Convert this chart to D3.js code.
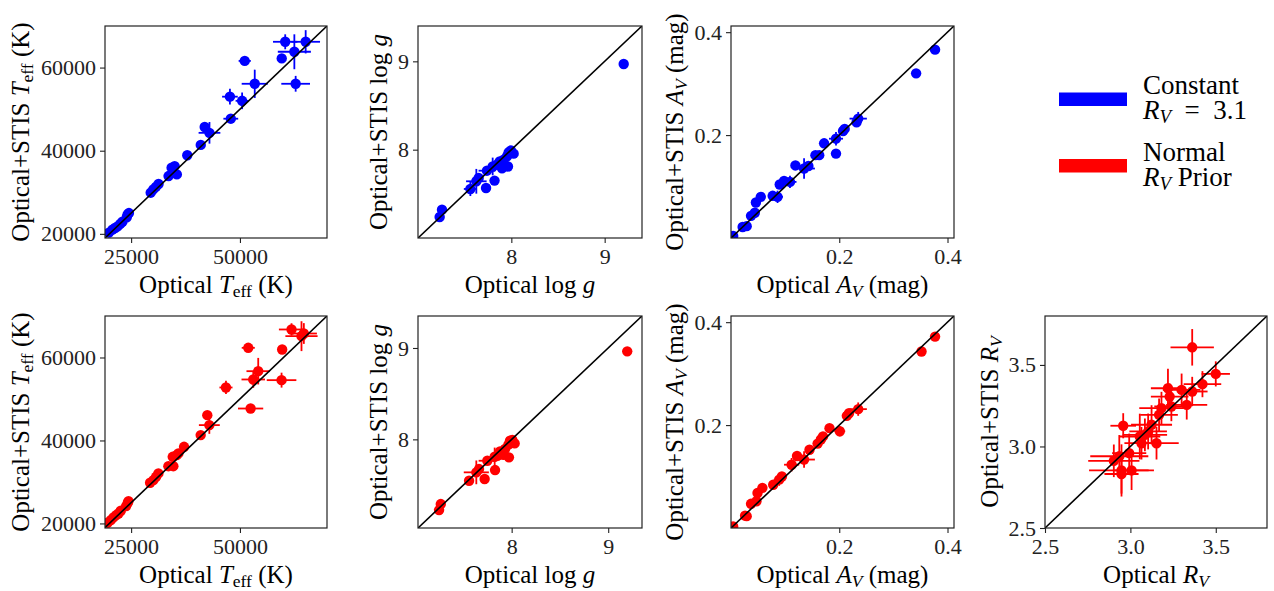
<!DOCTYPE html>
<html><head><meta charset="utf-8">
<script src="https://cdn.jsdelivr.net/npm/d3@7"></script>
<style>body{margin:0;background:#fff}svg{display:block}</style>
</head><body>
<svg id="c" width="1274" height="591"></svg>
<script>
// ---------- DATA: [x, y, xerr, yerr] ----------
const teffConst = [
[19900,20300,300,300],[20700,21000,300,300],[21300,21400,300,300],[21900,21800,300,300],
[22500,22400,300,300],[23000,22900,300,300],[24000,24000,300,300],[24200,24700,300,300],
[24500,25000,300,300],[29500,29900,400,400],[30100,30700,400,400],[30700,31300,400,400],
[31300,32000,400,400],[33600,33900,500,500],[34300,35900,500,500],[35000,36300,500,500],
[35500,34300,500,500],[37900,38900,500,500],[41000,41400,600,600],[41900,45700,800,800],
[43000,44300,2500,2600],[47900,47700,1700,700],[47700,53000,1800,1900],[50500,52000,1500,2000],
[51100,61600,1400,700],[53400,56100,3000,3400],[59600,62200,600,600],[60400,66200,2800,1800],
[62500,63800,3800,4200],[62800,56100,3300,1900],[65100,66200,3300,2800]
];
const loggConst = [
[7.232,7.238,0.02,0.02],[7.257,7.321,0.03,0.03],[7.561,7.555,0.07,0.08],[7.625,7.642,0.11,0.14],
[7.65,7.68,0.03,0.03],[7.729,7.566,0.03,0.03],[7.739,7.762,0.09,0.03],[7.82,7.65,0.03,0.03],
[7.80,7.81,0.03,0.1],[7.846,7.83,0.03,0.03],[7.875,7.868,0.03,0.03],[7.90,7.79,0.03,0.03],
[7.918,7.887,0.03,0.03],[7.954,7.925,0.03,0.03],[7.964,7.81,0.03,0.03],[7.971,7.97,0.03,0.03],
[7.996,7.99,0.03,0.03],[8.025,7.955,0.03,0.03],[9.204,8.97,0.02,0.02]
];
const avConst = [
[0.004,0.004,0.002,0.002],[0.0215,0.0214,0.003,0.003],[0.029,0.023,0.003,0.003],[0.037,0.043,0.003,0.003],
[0.044,0.049,0.003,0.003],[0.046,0.069,0.003,0.003],[0.055,0.080,0.003,0.003],[0.077,0.082,0.004,0.004],
[0.086,0.080,0.01,0.012],[0.090,0.104,0.004,0.004],[0.098,0.111,0.004,0.004],[0.109,0.109,0.012,0.012],
[0.119,0.141,0.004,0.004],[0.135,0.135,0.02,0.02],[0.143,0.140,0.005,0.005],[0.156,0.161,0.005,0.005],
[0.163,0.161,0.005,0.005],[0.172,0.184,0.005,0.005],[0.194,0.193,0.013,0.013],[0.194,0.164,0.004,0.004],
[0.207,0.208,0.005,0.005],[0.210,0.212,0.005,0.005],[0.232,0.225,0.005,0.005],[0.235,0.232,0.016,0.013],
[0.342,0.320,0.006,0.004],[0.377,0.366,0.004,0.004]
];
const teffNorm = [
[19600,20160,300,300],[20340,20800,300,300],[20950,21450,300,300],[21560,22000,300,300],
[22100,22400,300,300],[22630,23050,300,300],[23850,24180,300,300],[24240,24980,300,300],
[24400,25380,300,300],[29360,29800,400,400],[30120,30440,400,400],[30730,31240,400,400],
[31270,32050,400,400],[33560,33800,500,500],[34700,33800,500,500],[34560,36060,500,500],
[35470,36470,500,500],[35860,36870,500,500],[37160,38470,500,500],[40980,41290,600,600],
[42500,46100,600,700],[42970,43700,2400,2100],[46790,52770,1500,1600],[51910,62330,1500,900],
[52450,47700,2900,700],[53060,54700,2700,2000],[54200,56700,2700,3200],[59560,54540,3400,1800],
[59700,61930,600,600],[61850,66750,2900,1500],[64140,65140,3700,3600],[64680,65780,3000,2500]
];
const loggNorm = [
[7.248,7.226,0.02,0.02],[7.266,7.292,0.04,0.03],[7.559,7.547,0.03,0.03],[7.634,7.639,0.13,0.13],
[7.662,7.675,0.03,0.03],[7.72,7.566,0.03,0.03],[7.748,7.766,0.09,0.03],[7.828,7.664,0.03,0.03],
[7.824,7.81,0.03,0.1],[7.852,7.82,0.03,0.03],[7.879,7.869,0.03,0.03],[7.914,7.832,0.03,0.03],
[7.931,7.894,0.03,0.03],[7.966,7.942,0.03,0.03],[7.972,7.803,0.03,0.03],[7.983,7.985,0.03,0.03],
[8.007,7.993,0.03,0.03],[8.031,7.956,0.03,0.03],[9.197,8.963,0.02,0.02]
];
const avNorm = [
[0.004,0.003,0.002,0.002],[0.026,0.024,0.003,0.003],[0.029,0.023,0.003,0.003],[0.037,0.047,0.003,0.003],
[0.047,0.052,0.003,0.003],[0.049,0.068,0.003,0.003],[0.058,0.078,0.003,0.003],[0.078,0.084,0.004,0.004],
[0.089,0.094,0.01,0.012],[0.094,0.100,0.004,0.004],[0.112,0.123,0.014,0.013],[0.122,0.140,0.004,0.004],
[0.135,0.133,0.02,0.016],[0.145,0.152,0.005,0.005],[0.160,0.164,0.005,0.005],[0.166,0.172,0.005,0.005],
[0.170,0.178,0.005,0.005],[0.182,0.194,0.005,0.005],[0.201,0.188,0.01,0.01],[0.214,0.218,0.005,0.005],
[0.218,0.223,0.005,0.005],[0.235,0.231,0.016,0.013],[0.352,0.343,0.004,0.004],[0.377,0.372,0.004,0.004]
];
const rvNorm = [
[3.362,3.608,0.127,0.112],[3.50,3.445,0.083,0.077],[3.422,3.382,0.11,0.08],[3.362,3.337,0.09,0.09],
[3.30,3.347,0.11,0.10],[3.33,3.255,0.12,0.09],[3.22,3.357,0.10,0.12],[3.23,3.306,0.11,0.08],
[3.24,3.245,0.10,0.09],[3.182,3.235,0.13,0.10],[3.168,3.194,0.11,0.10],[3.124,3.133,0.12,0.12],
[3.104,3.092,0.11,0.11],[3.085,3.071,0.13,0.10],[3.055,3.061,0.12,0.14],[3.065,3.02,0.10,0.10],
[3.153,3.02,0.13,0.10],[2.958,3.127,0.075,0.077],[2.935,2.94,0.17,0.13],[2.903,2.912,0.15,0.10],
[2.993,2.959,0.10,0.12],[2.948,2.853,0.19,0.16],[2.948,2.831,0.10,0.12],[3.007,2.853,0.10,0.12]
];
const teffXTicks = [25000, 50000];
const teffYTicks = [20000, 40000, 60000];
const loggTicks = [8, 9];
const avTicks = [0.2, 0.4];
const rvTicks = [2.5, 3.0, 3.5];
const legendLabels = [["Constant", "R_V = 3.1"], ["Normal", "R_V Prior"]];
const seriesColors = ["#0000ff", "#ff0000"];

// ---------- LAYOUT ----------
const svg = d3.select("#c");
const FONT = "'Liberation Serif', 'Times New Roman', serif";
const LABEL_SIZE = 25, TICK_SIZE = 22, LEG_SIZE = 27;
const cols = [[105,327],[418,642],[731,954],[1045,1267]];
const rows = [[26,238],[316,528]];

const labTeff = (pre) => [[pre,"rm"],["T","it"],["eff","sub"],[" (K)","rm"]];
const labLogg = (pre) => [[pre+"log ","rm"],["g","it"]];
const labAv = (pre) => [[pre,"rm"],["A","it"],["V","subit"],[" (mag)","rm"]];
const labRv = (pre) => [[pre,"rm"],["R","it"],["V","subit"]];

const panels = [
 {r:0,c:0,data:teffConst,color:0,xd:[19000,70000],yd:[19000,70000],xt:teffXTicks,yt:teffYTicks,fmt:d3.format("d"),xl:labTeff("Optical "),yl:labTeff("Optical+STIS "),yoff:76},
 {r:0,c:1,data:loggConst,color:0,xd:[7.0,9.4],yd:[7.0,9.4],xt:loggTicks,yt:loggTicks,fmt:d3.format("d"),xl:labLogg("Optical "),yl:labLogg("Optical+STIS "),yoff:31},
 {r:0,c:2,data:avConst,color:0,xd:[0.0,0.412],yd:[0.0,0.412],xt:avTicks,yt:avTicks,fmt:d3.format(".1f"),xl:labAv("Optical "),yl:labAv("Optical+STIS "),yoff:48},
 {r:1,c:0,data:teffNorm,color:1,xd:[19000,70000],yd:[18900,70000],xt:teffXTicks,yt:teffYTicks,fmt:d3.format("d"),xl:labTeff("Optical "),yl:labTeff("Optical+STIS "),yoff:76},
 {r:1,c:1,data:loggNorm,color:1,xd:[7.03,9.35],yd:[7.03,9.35],xt:loggTicks,yt:loggTicks,fmt:d3.format("d"),xl:labLogg("Optical "),yl:labLogg("Optical+STIS "),yoff:31},
 {r:1,c:2,data:avNorm,color:1,xd:[0.0,0.412],yd:[0.0,0.412],xt:avTicks,yt:avTicks,fmt:d3.format(".1f"),xl:labAv("Optical "),yl:labAv("Optical+STIS "),yoff:48},
 {r:1,c:3,data:rvNorm,color:1,xd:[2.5,3.8],yd:[2.5,3.8],xt:rvTicks,yt:rvTicks,fmt:d3.format(".1f"),xl:labRv("Optical "),yl:labRv("Optical+STIS "),yoff:47}
];

function addParts(text, parts, first){
  parts.forEach(([t,s],k)=>{
    const ts = text.append("tspan").text(t);
    if(k===0 && first) first(ts);
    if(s==="it"||s==="subit") ts.attr("font-style","italic");
    if(s==="sub"||s==="subit") ts.attr("font-size","70%").attr("baseline-shift","-22%");
  });
}

panels.forEach((p,i)=>{
  const [x0,x1] = cols[p.c], [y0,y1] = rows[p.r];
  const xs = d3.scaleLinear().domain(p.xd).range([x0,x1]);
  const ys = d3.scaleLinear().domain(p.yd).range([y1,y0]);
  const col = seriesColors[p.color];
  const g = svg.append("g");
  const cid = "clip"+i;
  svg.append("defs").append("clipPath").attr("id",cid)
    .append("rect").attr("x",x0).attr("y",y0).attr("width",x1-x0).attr("height",y1-y0);
  const pg = g.append("g").attr("clip-path",`url(#${cid})`);
  pg.selectAll("line.xe").data(p.data).join("line")
    .attr("x1",d=>xs(d[0]-d[2])).attr("x2",d=>xs(d[0]+d[2]))
    .attr("y1",d=>ys(d[1])).attr("y2",d=>ys(d[1]))
    .attr("stroke",col).attr("stroke-width",1.8);
  pg.selectAll("line.ye").data(p.data).join("line")
    .attr("x1",d=>xs(d[0])).attr("x2",d=>xs(d[0]))
    .attr("y1",d=>ys(d[1]-d[3])).attr("y2",d=>ys(d[1]+d[3]))
    .attr("stroke",col).attr("stroke-width",1.8);
  pg.selectAll("circle").data(p.data).join("circle")
    .attr("cx",d=>xs(d[0])).attr("cy",d=>ys(d[1])).attr("r",5.2).attr("fill",col);
  const lo = Math.min(p.xd[0],p.yd[0]), hi = Math.max(p.xd[1],p.yd[1]);
  pg.append("line").attr("x1",xs(lo)).attr("y1",ys(lo)).attr("x2",xs(hi)).attr("y2",ys(hi))
    .attr("stroke","#000").attr("stroke-width",1.6);
  const ax = g.append("g").attr("transform",`translate(0,${y1})`)
    .call(d3.axisBottom(xs).tickValues(p.xt).tickFormat(p.fmt).tickSize(5).tickPadding(5));
  const ay = g.append("g").attr("transform",`translate(${x0},0)`)
    .call(d3.axisLeft(ys).tickValues(p.yt).tickFormat(p.fmt).tickSize(5).tickPadding(4));
  [ax,ay].forEach(a=>{
    a.select(".domain").remove();
    a.selectAll(".tick line").attr("stroke","#222").attr("stroke-width",1.1);
    a.selectAll(".tick text").attr("font-family",FONT).attr("font-size",TICK_SIZE).attr("fill","#222");
  });
  g.append("rect").attr("x",x0).attr("y",y0).attr("width",x1-x0).attr("height",y1-y0)
    .attr("fill","none").attr("stroke","#222").attr("stroke-width",1.2);
  const xl = g.append("text").attr("x",(x0+x1)/2).attr("y",y1+55)
    .attr("text-anchor","middle").attr("font-family",FONT).attr("font-size",LABEL_SIZE).attr("fill","#000");
  addParts(xl,p.xl);
  const cy = (y0+y1)/2, bx = x0-p.yoff;
  const yl = g.append("text").attr("transform",`translate(${bx},${cy}) rotate(-90)`)
    .attr("text-anchor","middle").attr("font-family",FONT).attr("font-size",LABEL_SIZE).attr("fill","#000");
  addParts(yl,p.yl);
});

// ---------- LEGEND ----------
const leg = svg.append("g");
const legTop = [92.5, 159];
const legText = [[[[legendLabels[0][0],"rm"]],[["R","it"],["V","subit"],["\u2002=\u20023.1","rm"]]],
                 [[[legendLabels[1][0],"rm"]],[["R","it"],["V","subit"],[" Prior","rm"]]]];
legendLabels.forEach((lab,i)=>{
  leg.append("rect").attr("x",1059).attr("y",legTop[i]).attr("width",68).attr("height",13.5)
    .attr("fill",seriesColors[i]);
  const t = leg.append("text").attr("x",1143).attr("y",legTop[i]+1.5)
    .attr("font-family",FONT).attr("font-size",LEG_SIZE).attr("fill","#000");
  addParts(t,legText[i][0]);
  addParts(t,legText[i][1],ts=>ts.attr("x",1143).attr("dy",25));
});
</script>
</body></html>
